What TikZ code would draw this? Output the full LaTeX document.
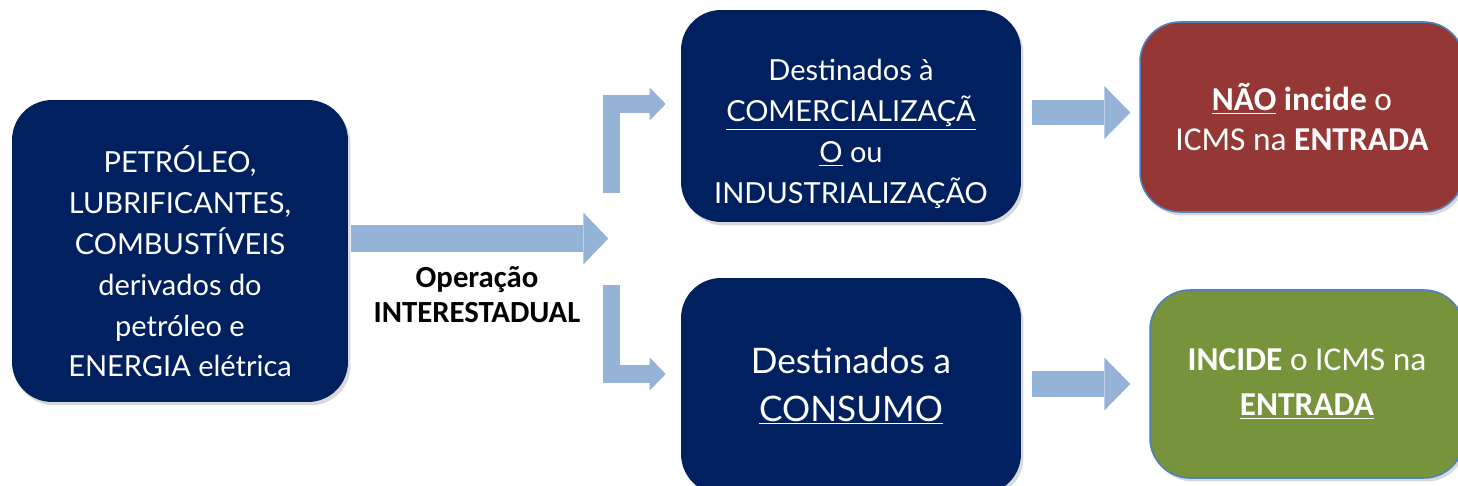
\documentclass[tikz,border=0pt]{standalone}
\usepackage{fontspec}
\setmainfont{Carlito}
\newfontfamily\caixafonte{Lato}
\usetikzlibrary{arrows.meta, shadows}

\definecolor{azulescuro}{RGB}{0,32,96}
\definecolor{vermelho}{RGB}{149,55,53}
\definecolor{verde}{RGB}{119,147,60}
\definecolor{azulseta}{RGB}{149,179,215}
\definecolor{azulborda}{RGB}{79,129,189}

\newcommand{\empurra}[1]{\rule{0pt}{#1}}

\tikzset{
  caixa/.style={rounded corners=0.8cm, text=white, align=center,
    drop shadow={shadow xshift=0.05cm, shadow yshift=-0.07cm, opacity=0.3}},
  escura/.style={caixa, fill=azulescuro, font=\caixafonte\fontsize{16.5}{23.3}\selectfont},
  resultado/.style={caixa, draw=azulborda, line width=0.9pt, font=\fontsize{19}{22.8}\selectfont},
  setagrande/.style={azulseta, line width=0.54cm,
    -{Triangle[length=0.5cm, width=1.04cm, line width=0pt 0 0]}},
  setamedia/.style={azulseta, line width=0.52cm,
    -{Triangle[length=0.52cm, width=1.06cm, line width=0pt 0 0]}},
  setadobrada/.style={azulseta, line width=0.35cm, line join=miter,
    -{Triangle[length=0.32cm, width=0.66cm, line width=0pt 0 0]}}
}

\begin{document}
\begin{tikzpicture}[x=0.02cm, y=-0.02cm]
  \useasboundingbox (0,0) rectangle (1458,486);
  \clip (0,0) rectangle (1458,486);

  \node[escura, minimum width=6.72cm, minimum height=6.04cm] (src) at (180,251)
    {\empurra{27pt}PETRÓLEO,\\LUBRIFICANTES,\\COMBUSTÍVEIS\\derivados do\\petróleo e\\ENERGIA elétrica};
  \node[escura, minimum width=6.8cm, minimum height=4.24cm] (comm) at (851,116)
    {\empurra{33pt}Destinados à\\\underline{COMERCIALIZAÇÃ}\\\underline{O} ou\\INDUSTRIALIZAÇÃO};
  \node[escura, minimum width=6.8cm, minimum height=4.32cm,
    font=\caixafonte\fontsize{20}{27.3}\selectfont] (cons) at (851,386)
    {Destinados a\\\underline{CONSUMO}};
  \node[resultado, fill=vermelho, minimum width=6.48cm, minimum height=3.8cm] (nao) at (1302,117)
    {\underline{\textbf{NÃO}} \textbf{incide} o\\ICMS na \textbf{ENTRADA}};
  \node[resultado, fill=verde, minimum width=6.28cm, minimum height=3.76cm,
    font=\fontsize{19}{25.5}\selectfont] (sim) at (1307,384)
    {\textbf{INCIDE} o ICMS na\\\underline{\textbf{ENTRADA}}};

  \node[align=center, font=\bfseries\fontsize{17.5}{20}\selectfont] (oper) at (477,295)
    {Operação\\INTERESTADUAL};

  \coordinate (forkup) at (611.5,193);
  \coordinate (forkdown) at (611.5,285);

  \draw[setagrande] ([xshift=0.06cm, yshift=0.25cm]src.east) -- ++(257,0);
  \draw[setadobrada] (forkup) |- ([xshift=-0.3cm, yshift=0.24cm]comm.west);
  \draw[setadobrada] (forkdown) |- ([xshift=-0.3cm, yshift=0.24cm]cons.west);
  \draw[setamedia] ([xshift=0.22cm, yshift=0.07cm]comm.east) -- ++(98,0);
  \draw[setamedia] ([xshift=0.22cm, yshift=0.04cm]cons.east) -- ++(98,0);
\end{tikzpicture}
\end{document}
